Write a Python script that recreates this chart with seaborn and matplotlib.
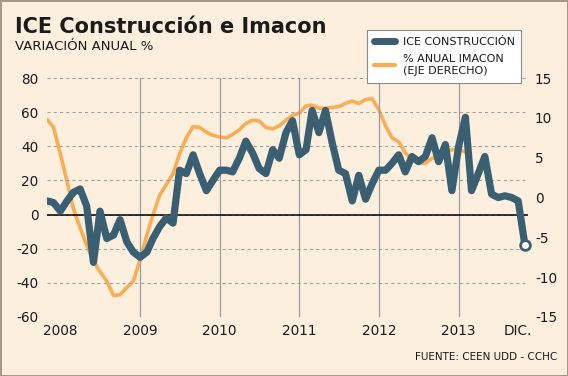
import matplotlib.pyplot as plt
from matplotlib.lines import Line2D
import seaborn as sns
import pandas as pd

# ICE construccion, variacion anual % (eje izquierdo), mensual
meses_ice = pd.date_range('2007-11-01', periods=73, freq='MS')
ice = [8, 7, 2, 8, 13, 15, 5, -28, 2, -14,
       -12, -3, -16, -22, -25, -22, -14, -7, -2, -5,
       26, 24, 35, 24, 14, 20, 26, 26, 25, 33,
       43, 36, 27, 24, 38, 33, 48, 55, 35, 38,
       61, 48, 61, 42, 26, 24, 8, 23, 9, 18,
       26, 26, 30, 35, 25, 34, 31, 34, 45, 31,
       41, 14, 40, 57, 14, 24, 34, 12, 10, 11,
       10, 8, -18]

# % anual Imacon (eje derecho)
meses_imacon = pd.date_range('2007-11-01', periods=64, freq='MS')
imacon = [9.8, 8.8, 5.5, 2.0, -1.4, -3.8, -6.0, -8.0, -9.3, -10.5,
          -12.3, -12.2, -11.3, -10.5, -7.8, -4.7, -2.2, 0.3, 1.6, 3.0,
          5.5, 7.5, 8.9, 8.8, 8.2, 7.8, 7.6, 7.5, 7.9, 8.5,
          9.3, 9.7, 9.6, 8.8, 8.6, 9.0, 9.7, 10.3, 10.6, 11.5,
          11.6, 11.2, 11.2, 11.3, 11.4, 11.8, 12.1, 11.8, 12.3, 12.4,
          11.0, 9.0, 7.5, 7.0, 5.6, 4.8, 4.3, 4.3, 4.9, 5.4,
          5.8, 6.0, 6.0, 5.7]

anios = ['2008', '2009', '2010', '2011', '2012', '2013']
lineas_anio = ['2009', '2010', '2011', '2012', '2013']
ticks_izq = [-60, -40, -20, 0, 20, 40, 60, 80]
ticks_der = [-15, -10, -5, 0, 5, 10, 15]

azul = '#3a5f73'
naranjo = '#fbad56'
fondo = '#fcefde'

sns.set_style('white')
plt.rcParams['font.family'] = ['DejaVu Sans']
plt.rcParams['text.color'] = '#1a1a1a'
plt.rcParams['axes.unicode_minus'] = False

fig = plt.figure(figsize=(5.68, 3.76), dpi=100, facecolor=fondo,
                 edgecolor='#a8978b', linewidth=2)
ax = fig.add_axes([47/568, 59/376, 481/568, 239/376])
ax2 = ax.twinx()
ax.set_zorder(ax2.get_zorder() + 1)
ax.patch.set_visible(False)
ax2.patch.set_visible(False)

df_ice = pd.DataFrame({'fecha': meses_ice, 'ice': ice})
df_im = pd.DataFrame({'fecha': meses_imacon, 'imacon': imacon})

sns.lineplot(data=df_im, x='fecha', y='imacon', ax=ax2, color=naranjo,
             lw=2.6, legend=False)
sns.lineplot(data=df_ice, x='fecha', y='ice', ax=ax, color=azul, lw=5.2,
             solid_joinstyle='round', solid_capstyle='round', legend=False,
             zorder=3)
ax.plot(df_ice['fecha'].iloc[-1:], df_ice['ice'].iloc[-1:], 'o', ms=7,
        mfc='white', mec=azul, mew=2, clip_on=False, zorder=5)

ax.set_ylim(-60, 80)
ax.set_yticks(ticks_izq)
ax.set_axisbelow(True)
ax.yaxis.grid(True, color='#a0a0a0', lw=0.75, ls=(0, (3, 3)))
ax.xaxis.grid(False)
ax.axhline(0, color='black', lw=1.1, zorder=1.5)
for a in lineas_anio:
    ax.axvline(pd.Timestamp(a + '-01-01'), color='#9a9a9a', lw=0.9, zorder=1)

ax2.set_ylim(-15, 15)
ax2.set_yticks(ticks_der)
ax2.grid(False)

ax.set_xlim(pd.Timestamp('2007-11-01'), pd.Timestamp('2013-11-15'))
ax.set_xticks([pd.Timestamp(a + '-01-01') for a in anios] + [pd.Timestamp('2013-10-01')])
ax.set_xticklabels(anios + ['DIC.'])

for a_ in (ax, ax2):
    for s in a_.spines.values():
        s.set_visible(False)
    a_.set_xlabel('')
    a_.set_ylabel('')
ax.tick_params(axis='both', length=0, labelsize=9.8, colors='#1a1a1a')
ax.tick_params(axis='x', pad=5)
ax.tick_params(axis='y', pad=6)
ax2.tick_params(axis='y', length=0, labelsize=9.8, colors='#1a1a1a', pad=5)

fig.text(15/568, 1 - 33.3/376, 'ICE Construcción e Imacon', fontsize=15,
         weight='bold', va='baseline')
fig.text(15/568, 1 - 49.5/376, 'VARIACIÓN ANUAL %', fontsize=9.5, va='baseline')
fig.text(557/568, 1 - 360/376, 'FUENTE: CEEN UDD - CCHC', fontsize=7.5,
         ha='right', va='baseline')

handles = [Line2D([], [], color=azul, lw=5, solid_capstyle='round'),
           Line2D([], [], color=naranjo, lw=3)]
leg = fig.legend(handles, ['ICE CONSTRUCCIÓN', '% ANUAL IMACON\n(EJE DERECHO)'],
                 loc='upper left', bbox_to_anchor=(367/568, 1 - 30/376),
                 frameon=True, fancybox=False, edgecolor='#8c8c8c',
                 facecolor='white', framealpha=1, fontsize=8,
                 handlelength=1.9, handletextpad=0.7, borderpad=0.6,
                 labelspacing=0.7, borderaxespad=0)
leg.get_frame().set_linewidth(0.8)

fig.savefig('out.png', dpi=100, facecolor=fig.get_facecolor(),
            edgecolor=fig.get_edgecolor())
